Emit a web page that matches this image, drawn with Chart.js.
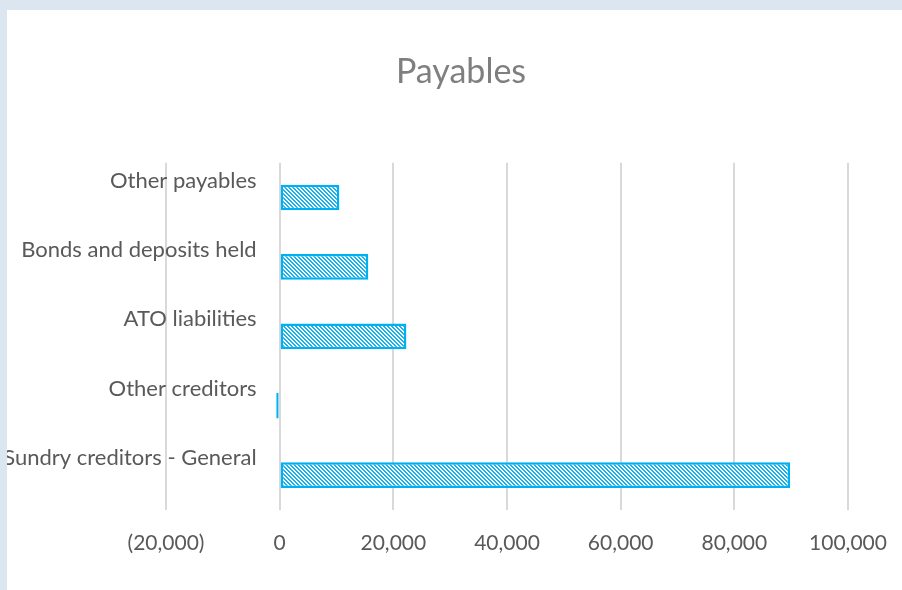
<!DOCTYPE html>
<html>
<head>
<meta charset="utf-8">
<script src="https://cdn.jsdelivr.net/npm/chart.js@4"></script>
<style>
  html, body { margin: 0; padding: 0; background: #dce6f0; overflow: hidden; }
  #wrap { position: absolute; left: 7px; top: 10px; width: 895px; height: 580px; background: #fff; overflow: hidden; }
</style>
</head>
<body>
<div id="wrap"><canvas id="payablesChart" width="908" height="580"></canvas></div>
<script>
// categories, top to bottom
const categories = ['Other payables', 'Bonds and deposits held', 'ATO liabilities', 'Other creditors', 'Sundry creditors - General'];
const amounts = [10500, 15600, 22300, -600, 89800];
const axisMin = -20000;
const axisMax = 100000;
const axisStep = 20000;

// hatch pattern for the bars (diagonal lines, 4px tile)
function makeHatch() {
    const s = 4;
    const c = document.createElement('canvas');
    c.width = s; c.height = s;
    const g = c.getContext('2d');
    g.fillStyle = '#ffffff';
    g.fillRect(0, 0, s, s);
    g.fillStyle = '#12b2ee';
    for (let y = 0; y < s; y++) {
        g.fillRect(y % s, y, 1, 1);
        g.fillRect((y + 1) % s, y, 1, 1);
    }
    return g.createPattern(c, 'repeat');
}

function formatNumber(v) {
    const txt = Math.abs(v).toLocaleString('en-US');
    return v < 0 ? '(' + txt + ')' : txt;
}

// empty axes only used to reserve room on both sides so the title sits where it should
const spacer = w => ({
    display: true,
    ticks: { display: false },
    grid: { display: false },
    border: { display: false },
    afterFit: s => { s.width = w; }
});

const ctx = document.getElementById('payablesChart').getContext('2d');
new Chart(ctx, {
    type: 'bar',
    data: {
        labels: categories,
        datasets: [{
            label: 'Payables',
            data: amounts,
            backgroundColor: makeHatch(),
            borderColor: '#00b0f0',
            borderWidth: 2.5,
            borderSkipped: false,
            categoryPercentage: 1,
            barPercentage: 0.37
        }]
    },
    options: {
        indexAxis: 'y',
        responsive: false,
        animation: false,
        layout: { padding: { left: 0, right: 0, top: 0, bottom: 13 } },
        plugins: {
            legend: { display: false },
            tooltip: { enabled: false },
            title: {
                display: true,
                text: 'Payables',
                color: '#7f7f7f',
                font: { family: 'Lato', size: 34, weight: 'normal' },
                padding: { top: 42, bottom: 70 }
            }
        },
        scales: {
            x: {
                min: axisMin,
                max: axisMax,
                ticks: {
                    stepSize: axisStep,
                    color: '#595959',
                    font: { family: 'Lato', size: 21 },
                    padding: 21,
                    callback: v => formatNumber(v)
                },
                grid: { color: '#d9d9d9', lineWidth: 2, drawTicks: false },
                border: { display: false }
            },
            y: {
                // labels sit just left of the zero line
                position: { x: -4050 },
                offset: true,
                ticks: {
                    color: '#595959',
                    font: { family: 'Lato', size: 22 },
                    labelOffset: -17
                },
                grid: { display: false },
                border: { display: false }
            },
            padLeft: Object.assign({ position: 'left' }, spacer(159)),
            padRight: Object.assign({ position: 'right' }, spacer(67))
        }
    }
});
</script>
</body>
</html>
